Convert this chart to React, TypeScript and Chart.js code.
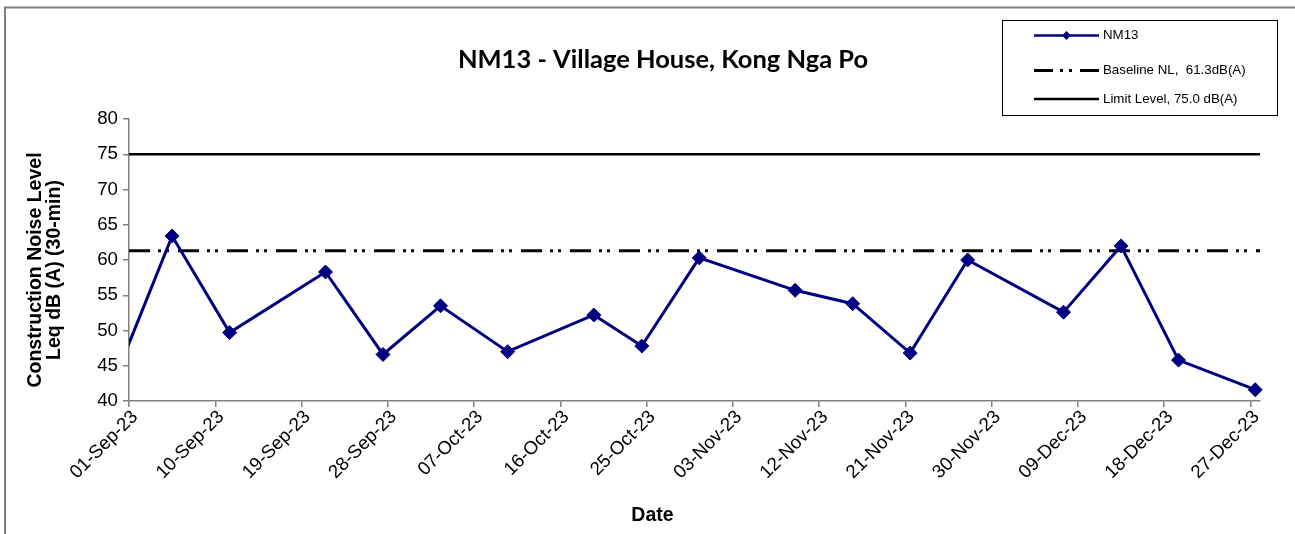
import React, { useEffect, useRef } from 'react';
import { Chart, registerables } from 'chart.js';

Chart.register(...registerables);

// ---------- data ----------
const TITLE = 'NM13 - Village House, Kong Nga Po';
const SERIES_LABEL = 'NM13';
const BASELINE_LABEL = 'Baseline NL,  61.3dB(A)';
const LIMIT_LABEL = 'Limit Level, 75.0 dB(A)';
const Y_TITLE_LINES = ['Construction Noise Level', 'Leq dB (A) (30-min)'];
const X_TITLE = 'Date';

const DATES = [
  '30-Aug-23', '05-Sep-23', '11-Sep-23', '21-Sep-23', '27-Sep-23', '03-Oct-23',
  '10-Oct-23', '19-Oct-23', '24-Oct-23', '30-Oct-23', '09-Nov-23', '15-Nov-23',
  '21-Nov-23', '27-Nov-23', '07-Dec-23', '13-Dec-23', '19-Dec-23', '27-Dec-23',
];
const VALUES = [
  43.1, 63.4, 49.7, 58.3, 46.6, 53.5,
  47.0, 52.2, 47.8, 60.3, 55.7, 53.8,
  46.8, 60.0, 52.6, 62.0, 45.8, 41.6,
];
const BASELINE = 61.3;
const LIMIT = 75.0;

const TICK_LABELS = [
  '01-Sep-23', '10-Sep-23', '19-Sep-23', '28-Sep-23', '07-Oct-23', '16-Oct-23', '25-Oct-23',
  '03-Nov-23', '12-Nov-23', '21-Nov-23', '30-Nov-23', '09-Dec-23', '18-Dec-23', '27-Dec-23',
];
const AXIS_END = '28-Dec-23';
const Y_MIN = 40;
const Y_MAX = 80;
const Y_STEP = 5;

// ---------- helpers ----------
const MONTHS = ['Jan', 'Feb', 'Mar', 'Apr', 'May', 'Jun', 'Jul', 'Aug', 'Sep', 'Oct', 'Nov', 'Dec'];
const parseDate = (s: string) => {
  const [d, m, y] = s.split('-');
  return Date.UTC(2000 + Number(y), MONTHS.indexOf(m), Number(d));
};
const ORIGIN = parseDate(TICK_LABELS[0]);
const toDay = (s: string) => (parseDate(s) - ORIGIN) / 86400000;

const ARIAL = '"Liberation Sans", Arial, sans-serif';
const NAVY = '#000080';
const AXIS_GRAY = '#808080';
const BASE_DASH = [21, 8, 3, 5, 3, 9];

const decorPlugin = {
  id: 'decor',
  afterDraw(chart: any) {
    const ctx = chart.ctx as CanvasRenderingContext2D;
    const area = chart.chartArea;
    ctx.save();

    // outer frame (left + top visible)
    ctx.strokeStyle = AXIS_GRAY;
    ctx.lineWidth = 2;
    ctx.beginPath();
    ctx.moveTo(5, chart.height + 5);
    ctx.lineTo(5, 7.5);
    ctx.lineTo(chart.width + 5, 7.5);
    ctx.stroke();

    // title
    ctx.fillStyle = '#000';
    ctx.font = 'bold 25.5px Lato, "Open Sans", sans-serif';
    ctx.textAlign = 'center';
    ctx.textBaseline = 'alphabetic';
    ctx.fillText(TITLE, 663, 67.5);

    // x title
    ctx.font = `bold 19.5px ${ARIAL}`;
    ctx.fillText(X_TITLE, (area.left + area.right) / 2 - 42, 520.5);

    // y title
    const cy = (area.top + area.bottom) / 2 + 10;
    const baselinesX = [41, 60];
    ctx.font = `bold 19.5px ${ARIAL}`;
    Y_TITLE_LINES.forEach((line, i) => {
      ctx.save();
      ctx.translate(baselinesX[i], cy);
      ctx.rotate(-Math.PI / 2);
      ctx.textAlign = 'center';
      ctx.fillText(line, 0, 0);
      ctx.restore();
    });

    // legend
    const bx = 1002.5, by = 20.5, bw = 275, bh = 95;
    ctx.fillStyle = '#fff';
    ctx.fillRect(bx, by, bw, bh);
    ctx.strokeStyle = '#000';
    ctx.lineWidth = 1;
    ctx.strokeRect(bx, by, bw, bh);
    const lx0 = 1034, lx1 = 1099, tx = 1103;
    const rows = [35.5, 70.5, 99];
    ctx.font = `13.3px ${ARIAL}`;
    ctx.textAlign = 'left';
    ctx.textBaseline = 'middle';

    // row 1
    ctx.strokeStyle = NAVY;
    ctx.lineWidth = 2.5;
    ctx.setLineDash([]);
    ctx.beginPath();
    ctx.moveTo(lx0, rows[0]);
    ctx.lineTo(lx1, rows[0]);
    ctx.stroke();
    ctx.fillStyle = NAVY;
    const mx = (lx0 + lx1) / 2, r = 4.5;
    ctx.beginPath();
    ctx.moveTo(mx, rows[0] - r);
    ctx.lineTo(mx + r, rows[0]);
    ctx.lineTo(mx, rows[0] + r);
    ctx.lineTo(mx - r, rows[0]);
    ctx.closePath();
    ctx.fill();
    ctx.fillStyle = '#000';
    ctx.fillText(SERIES_LABEL, tx, rows[0]);

    // row 2
    ctx.strokeStyle = '#000';
    ctx.lineWidth = 3;
    ctx.setLineDash([19, 7, 3, 6, 3, 8]);
    ctx.beginPath();
    ctx.moveTo(lx0, rows[1]);
    ctx.lineTo(lx1, rows[1]);
    ctx.stroke();
    ctx.setLineDash([]);
    ctx.fillText(BASELINE_LABEL, tx, rows[1]);

    // row 3
    ctx.lineWidth = 2.5;
    ctx.beginPath();
    ctx.moveTo(lx0, rows[2]);
    ctx.lineTo(lx1, rows[2]);
    ctx.stroke();
    ctx.fillText(LIMIT_LABEL, tx, rows[2]);

    ctx.restore();
  },
};

export default function App() {
  const ref = useRef<HTMLCanvasElement | null>(null);

  useEffect(() => {
    if (!ref.current) return;
    const xMin = 0;
    const xMax = toDay(AXIS_END);
    const series = DATES.map((d, i) => ({ x: toDay(d) + 0.5, y: VALUES[i] }));
    const chart = new Chart(ref.current, {
      type: 'line',
      data: {
        datasets: [
          {
            label: SERIES_LABEL,
            data: series,
            borderColor: NAVY,
            backgroundColor: NAVY,
            borderWidth: 3,
            pointStyle: 'rectRot',
            pointRadius: 7,
            pointBorderWidth: 1,
            pointBorderColor: NAVY,
            pointBackgroundColor: NAVY,
            tension: 0,
            clip: { left: 0, top: 12, right: 12, bottom: 12 },
          } as any,
          {
            label: BASELINE_LABEL,
            data: [{ x: xMin, y: BASELINE }, { x: xMax, y: BASELINE }],
            borderColor: '#000',
            borderWidth: 3,
            borderDash: BASE_DASH,
            borderCapStyle: 'butt',
            pointRadius: 0,
          },
          {
            label: LIMIT_LABEL,
            data: [{ x: xMin, y: LIMIT }, { x: xMax, y: LIMIT }],
            borderColor: '#000',
            borderWidth: 2.5,
            pointRadius: 0,
          },
        ],
      },
      options: {
        animation: false,
        responsive: false,
        devicePixelRatio: 1,
        layout: { padding: { left: 0, top: 119, right: 35, bottom: 0 } },
        plugins: {
          legend: { display: false },
          title: { display: false },
          tooltip: { enabled: false },
        },
        events: [],
        scales: {
          x: {
            type: 'linear',
            min: xMin,
            max: xMax,
            afterBuildTicks: (s: any) => {
              s.ticks = TICK_LABELS.map((l) => ({ value: toDay(l) }));
            },
            afterFit: (s: any) => {
              s.height = 133;
            },
            ticks: {
              autoSkip: false,
              maxRotation: 45,
              minRotation: 45,
              padding: -1,
              labelOffset: 6,
              color: '#000',
              font: { family: ARIAL, size: 18.7 },
              callback: (_v: any, i: number) => TICK_LABELS[i],
            },
            grid: {
              drawOnChartArea: false,
              drawTicks: true,
              tickLength: 6,
              color: AXIS_GRAY,
              lineWidth: 1.5,
            },
            border: { display: true, color: AXIS_GRAY, width: 1.5 },
          },
          y: {
            type: 'linear',
            min: Y_MIN,
            max: Y_MAX,
            afterFit: (s: any) => {
              s.width = 129;
            },
            ticks: {
              stepSize: Y_STEP,
              padding: 5,
              color: '#000',
              font: { family: ARIAL, size: 18.7 },
            },
            grid: {
              drawOnChartArea: false,
              drawTicks: true,
              tickLength: 6,
              color: AXIS_GRAY,
              lineWidth: 1.5,
            },
            border: { display: true, color: AXIS_GRAY, width: 1.5 },
          },
        },
      } as any,
      plugins: [decorPlugin],
    });
    return () => chart.destroy();
  }, []);

  return (
    <div style={{ position: 'absolute', left: 0, top: 0, width: 1295, height: 534 }}>
      <canvas ref={ref} width={1295} height={534} style={{ display: 'block' }} />
    </div>
  );
}
